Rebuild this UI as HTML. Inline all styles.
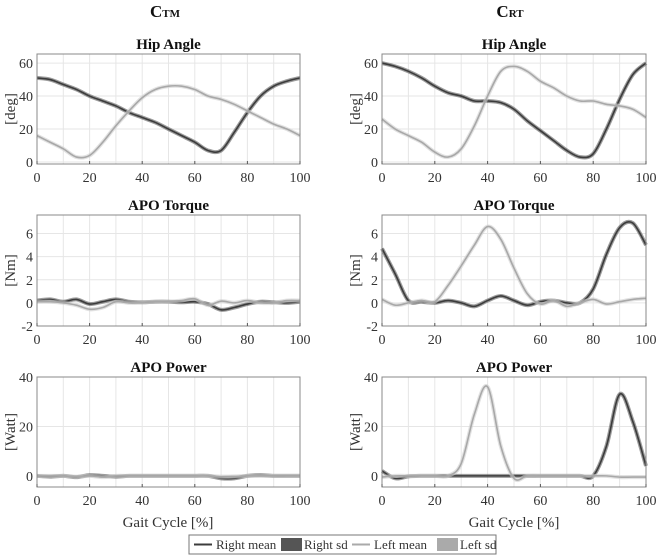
<!DOCTYPE html>
<html><head><meta charset="utf-8"><style>
body{margin:0;background:#fff}
svg{display:block;font-family:"Liberation Serif",serif}
</style></head><body>
<svg id="fig" width="657" height="556" viewBox="0 0 657 556"></svg>
<script>
const xPts=[0,5,10,15,20,25,30,35,40,45,50,55,60,65,70,75,80,85,90,95,100];
const hipTmRight=[51,50,47,44,40,37,34,30,27,24,20,16,12,7,7,18,30,40,46,49,51];
const hipTmLeft=[16,12,8,3,4,12,22,31,39,44,46,46,44,40,38,35,31,27,23,20,16];
const hipRtRight=[60,58,55,51,46,42,40,37,37,36,32,25,19,13,7,3,5,20,38,53,60];
const hipRtLeft=[26,20,16,12,6,3,8,22,40,55,58,55,49,45,40,37,37,35,34,32,27];
const torTmRight=[0.2,0.3,0.1,0.3,-0.1,0.1,0.3,0.1,0.05,0.1,0.1,0.05,0.1,-0.1,-0.6,-0.4,-0.1,0.1,0.05,0,0.1];
const torTmLeft=[0.1,0.1,0,-0.2,-0.55,-0.4,0.1,0,0.05,0.1,0.1,0.2,0.35,-0.2,0.15,0,0.2,0,0,0.2,0.2];
const torRtRight=[4.7,2.5,0.2,0.1,0,0.2,0,-0.3,0.2,0.6,0.2,-0.2,0.1,0.2,0,0,1.2,4.2,6.5,6.9,5];
const torRtLeft=[0.3,-0.2,0,0.2,0.1,1.5,3.2,5,6.6,5.5,3,0.8,-0.1,0.2,-0.3,0,0.3,-0.1,0.1,0.3,0.4];
const powTmRight=[0,-0.3,0,-0.5,0.3,0,-0.3,0,0,0,0,0,0,0,-1,-1,0,0.3,0,0,0];
const powTmLeft=[0,0,0,-0.3,0,-0.5,0,0,0,0,0,0,0,0,-0.3,-0.2,0,0,0,0,0];
const powRtRight=[2,-1,-0.2,0,0,0,0,0,0,0,0,0,0,0,0,0,0,12,33,22,4];
const powRtLeft=[-0.5,0,0,0,0,0,5,25,36,12,-1,0,0,0,0,0,0,0,-0.5,-0.5,-0.5];
const xTicks=[0,20,40,60,80,100];
const hipTicks=[0,20,40,60], torTicks=[-2,0,2,4,6], powTicks=[0,20,40];
const NS="http://www.w3.org/2000/svg", svg=document.getElementById('fig');
function el(t,a,p){const e=document.createElementNS(NS,t);for(const k in a)e.setAttribute(k,a[k]);(p||svg).appendChild(e);return e;}
function txt(s,a,p){const e=el('text',a,p);e.textContent=s;return e;}
function smooth(pts){let d='M'+pts[0][0]+','+pts[0][1];for(let i=0;i<pts.length-1;i++){const p0=pts[i-1]||pts[i],p1=pts[i],p2=pts[i+1],p3=pts[i+2]||p2;d+=' C'+(p1[0]+(p2[0]-p0[0])/6)+','+(p1[1]+(p2[1]-p0[1])/6)+' '+(p2[0]-(p3[0]-p1[0])/6)+','+(p2[1]-(p3[1]-p1[1])/6)+' '+p2[0]+','+p2[1];}return d;}
function panel(name,x0,x1,y0,y1,ymin,ymax,yt,ylab,title,right,left){
 const g=el('g',{});
 const sx=v=>x0+(v/100)*(x1-x0), sy=v=>y1-(v-ymin)/(ymax-ymin)*(y1-y0);
 for(let v=0;v<=100;v+=10)el('line',{x1:sx(v),x2:sx(v),y1:y0,y2:y1,stroke:'#e6e6e6','stroke-width':1},g);
 for(const v of yt)el('line',{x1:x0,x2:x1,y1:sy(v),y2:sy(v),stroke:'#e6e6e6','stroke-width':1},g);
 const ser=[[right,'#5a5a5a','#3c3c3c','right'],[left,'#cfcfcf','#a8a8a8','left']];
 for(const [d,bc,lc,n] of ser){const pts=xPts.map((x,i)=>[sx(x),sy(d[i])]);
  const b=el('path',{d:smooth(pts),fill:'none',stroke:bc,'stroke-width':4,opacity:0.6},g);
  const l=el('path',{d:smooth(pts),fill:'none',stroke:lc,'stroke-width':1.6},g);}
 el('rect',{x:x0,y:y0,width:x1-x0,height:y1-y0,fill:'none',stroke:'#888','stroke-width':1},g);
 for(const v of xTicks){el('line',{x1:sx(v),x2:sx(v),y1:y1,y2:y1-3,stroke:'#555'},g);const t=txt(v,{x:sx(v),y:y1+18,'text-anchor':'middle','font-size':14,fill:'#333'},g);}
 for(const v of yt){const t=txt(v,{x:x0-4,y:sy(v)+5,'text-anchor':'end','font-size':14,fill:'#333'},g);}
 const yl=txt(ylab,{transform:`translate(${x0-22},${(y0+y1)/2}) rotate(-90)`,'text-anchor':'middle','font-size':15,fill:'#333'},g);
 const tt=txt(title,{x:(x0+x1)/2,y:y0-5,'text-anchor':'middle','font-size':15,'font-weight':'bold',fill:'#111'},g);
}
const cols=[[37,300],[382,646]];
const rows=[[54,164,-1.2,65.5,hipTicks,'[deg]','Hip Angle'],[215,326,-2,7.6,torTicks,'[Nm]','APO Torque'],[377,487,-4.5,40,powTicks,'[Watt]','APO Power']];
const data=[[hipTmRight,hipTmLeft,hipRtRight,hipRtLeft],[torTmRight,torTmLeft,torRtRight,torRtLeft],[powTmRight,powTmLeft,powRtRight,powRtLeft]];
const pn=['hip-angle','apo-torque','apo-power'];
rows.forEach((r,ri)=>cols.forEach((c,ci)=>panel(pn[ri]+(ci?'-rt':'-tm'),c[0],c[1],r[0],r[1],r[2],r[3],r[4],r[5],r[6],data[ri][ci*2],data[ri][ci*2+1])));
function head(x,sub,name){const t=el('text',{x:x,y:17,'text-anchor':'middle','font-size':17,'font-weight':'bold',fill:'#111'});t.appendChild(document.createTextNode('C'));const s=el('tspan',{'font-size':11},t);s.textContent=sub;}
head(165,'TM','column-title-tm');head(510,'RT','column-title-rt');
[[168,'x-axis-title-tm'],[514,'x-axis-title-rt']].forEach(([x,n])=>{const t=txt('Gait Cycle [%]',{x:x,y:527,'text-anchor':'middle','font-size':15,fill:'#333'});});
const lg=el('g',{});
el('rect',{x:189,y:535,width:307,height:19,fill:'#fff',stroke:'#777'},lg);
const items=[['line','#3c3c3c','Right mean',194],['box','#555','Right sd',281],['line','#aaa','Left mean',352],['box','#aaa','Left sd',437]];
for(const [k,c,l,x] of items){const e=el('g',{},lg);
 if(k==='line')el('line',{x1:x,x2:x+18,y1:544.5,y2:544.5,stroke:c,'stroke-width':2},e);else el('rect',{x:x,y:538,width:21,height:13,fill:c},e);
 txt(l,{x:x+(k==='line'?22:23),y:549,'font-size':13,fill:'#333'},e);}
</script>
</body></html>
